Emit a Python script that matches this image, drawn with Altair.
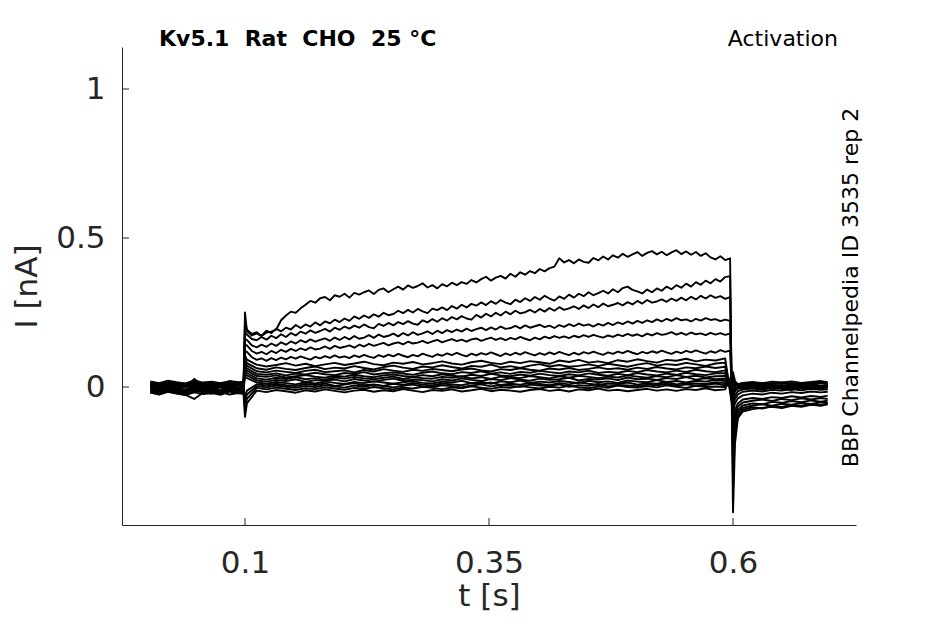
import altair as alt
import pandas as pd

# ---------------- data (current in pA, converted to nA below) ----------------
TRACE_NAMES = ["T1", "T2", "T3", "T4", "T5", "T6",
               "C1", "C2", "C3", "C4", "C5", "C6", "C7", "C8", "C9", "C10", "C11", "C12"]

T_PRE = [0.003, 0.012, 0.021, 0.030, 0.039, 0.048, 0.057, 0.066, 0.075, 0.084, 0.093, 0.0985]
T_TAIL = [0.602, 0.605, 0.610, 0.620, 0.630, 0.640, 0.650, 0.660, 0.670, 0.680, 0.690, 0.697]

PRE = {
    "T1": [8, 2, 10, 4, 11, 3, 7, 0, 9, 5, 12, 4],
    "T2": [-1, -8, 1, -5, 3, -7, -2, -9, 2, -4, -10, -2],
    "T3": [12, 6, 15, 9, 5, 14, 8, 16, 10, 4, 13, 9],
    "T4": [-8, -15, -5, -12, -9, -16, -6, -11, -14, -4, -10, -13],
    "T5": [3, -5, 2, -2, 6, -3, 1, -6, 5, 0, -4, 2],
    "T6": [16, 10, 18, 13, 9, 19, 12, 15, 10, 18, 13, 16],
    "C1": [-14, -20, -11, -17, -22, -13, -18, -15, -21, -12, -17, -19],
    "C2": [9, 3, 12, 6, 2, 11, 5, 8, 13, 4, 10, 6],
    "C3": [-4, -10, -1, -7, -12, -3, -8, -5, 0, -9, -6, -3],
    "C4": [4, -2, 7, 0, 3, 8, -3, 5, 1, 7, -1, 3],
    "C5": [-11, -17, -8, -14, -19, -10, -15, -12, -18, -8, -14, -16],
    "C6": [19, 13, 21, 16, 12, 22, 15, 18, 13, 20, 16, 18],
    "C7": [-18, -24, -15, -21, -26, -40, -19, -22, -16, -25, -20, -17],
    "C8": [6, 0, 9, 3, -1, 27, 5, 2, 8, 2, 6, 1],
    "C9": [-7, -13, -4, -10, -15, -6, -11, -8, -14, -5, -10, -12],
    "C10": [12, 6, 14, 9, 5, 15, 8, 11, 6, 13, 9, 12],
    "C11": [-1, -7, 2, -4, -8, 1, -5, -2, -9, 3, -3, -6],
    "C12": [-19, -25, -16, -22, -27, -18, -24, -20, -26, -15, -21, -23],
}

ON_SPIKE = [250, 215, 185, 160, 140, 120, 105, 95, 85, 75, 65, 55, 45, 35, -30, -55, -80, -100]
OFF_SPIKE = [-420, -320, -250, -190, -150, -115, -85, -65, -48, -35, -22, -12, 0, 12, 20, 30, 40, 50]

# step samples every 5 ms from 0.102 s (large traces)
STEP_T1 = [188, 173, 180, 171, 183, 186, 193, 224, 240, 253,
           249, 264, 276, 289, 283, 298, 302, 291, 308, 303,
           313, 300, 316, 310, 318, 324, 312, 326, 331, 318,
           328, 337, 327, 341, 333, 339, 348, 334, 342, 331,
           345, 338, 350, 342, 352, 346, 359, 351, 362, 370,
           357, 367, 373, 364, 380, 370, 385, 377, 389, 382,
           396, 388, 399, 404, 432, 418, 426, 415, 428, 420,
           417, 433, 425, 438, 428, 442, 434, 447, 437, 445,
           453, 440, 450, 456, 445, 454, 442, 452, 459, 446,
           455, 444, 453, 440, 449, 435, 428, 439, 426, 432]
STEP_T2 = [192, 178, 184, 172, 189, 181, 196, 187, 199, 193,
           208, 198, 210, 203, 217, 207, 220, 214, 226, 218,
           230, 222, 237, 229, 240, 232, 244, 236, 249, 241,
           245, 256, 248, 259, 250, 262, 254, 248, 263, 258,
           267, 258, 272, 263, 276, 267, 279, 273, 284, 275,
           288, 279, 292, 283, 278, 293, 285, 298, 289, 302,
           293, 306, 297, 290, 304, 296, 310, 300, 313, 305,
           318, 308, 315, 323, 314, 328, 318, 332, 337, 326,
           321, 314, 327, 318, 331, 323, 337, 328, 342, 333,
           347, 337, 352, 343, 357, 348, 362, 354, 369, 372]
STEP_T3 = [176, 161, 157, 168, 159, 172, 164, 177, 168, 181,
           173, 186, 179, 190, 182, 188, 195, 186, 199, 192,
           203, 196, 206, 199, 210, 201, 197, 212, 205, 215,
           207, 218, 211, 221, 213, 209, 224, 217, 228, 219,
           231, 223, 235, 227, 238, 230, 226, 242, 233, 246,
           237, 249, 240, 253, 244, 256, 247, 251, 259, 250,
           262, 253, 265, 256, 268, 259, 264, 271, 262, 274,
           265, 277, 268, 280, 271, 276, 282, 274, 285, 277,
           289, 280, 292, 283, 287, 294, 286, 297, 289, 300,
           291, 303, 294, 306, 297, 308, 299, 305, 296, 302]
STEP_T4 = [158, 140, 133, 142, 135, 146, 138, 150, 142, 153,
           146, 157, 150, 160, 152, 158, 163, 155, 166, 158,
           168, 160, 171, 162, 166, 174, 165, 176, 168, 172,
           179, 170, 181, 173, 184, 175, 180, 187, 178, 189,
           181, 191, 184, 193, 186, 196, 188, 194, 199, 191,
           200, 193, 203, 195, 198, 205, 197, 207, 199, 204,
           209, 201, 206, 198, 208, 202, 211, 204, 213, 206,
           210, 203, 212, 206, 215, 208, 217, 211, 220, 213,
           222, 215, 224, 218, 227, 220, 229, 222, 231, 224,
           227, 220, 229, 223, 231, 225, 228, 221, 226, 222]
STEP_T5 = [140, 121, 112, 118, 110, 121, 114, 125, 118, 128,
           121, 130, 124, 133, 126, 129, 136, 128, 138, 131,
           135, 140, 132, 142, 136, 145, 138, 143, 148, 140,
           146, 150, 143, 152, 146, 149, 155, 147, 153, 158,
           150, 156, 161, 154, 159, 152, 160, 163, 155, 161,
           166, 158, 164, 157, 165, 160, 168, 162, 157, 166,
           160, 169, 163, 171, 165, 170, 164, 172, 167, 174,
           168, 175, 170, 166, 173, 168, 176, 171, 178, 172,
           177, 170, 179, 173, 181, 175, 178, 184, 176, 182,
           175, 183, 177, 180, 174, 182, 176, 181, 175, 179]
STEP_T6 = [118, 100, 91, 96, 88, 97, 90, 99, 93, 101,
           95, 103, 97, 92, 101, 96, 104, 98, 106, 99,
           103, 97, 106, 100, 108, 102, 98, 107, 101, 109,
           103, 111, 105, 100, 108, 103, 112, 106, 101, 110,
           105, 113, 107, 115, 108, 103, 112, 106, 114, 109,
           116, 110, 104, 113, 107, 115, 109, 117, 111, 106,
           114, 108, 116, 110, 118, 112, 107, 115, 109, 117,
           112, 119, 113, 108, 116, 111, 119, 114, 121, 115,
           110, 118, 113, 120, 115, 122, 116, 111, 119, 114,
           121, 116, 123, 117, 112, 120, 115, 124, 118, 122]

# step samples every 10 ms from 0.102 s (small traces)
STEP_C1 = [92, 75, 69, 74, 80, 72, 78, 70, 76, 81,
           74, 79, 85, 77, 73, 82, 78, 84, 76, 80,
           86, 79, 75, 83, 88, 81, 77, 85, 80, 87,
           83, 78, 89, 84, 91, 82, 86, 80, 90, 85,
           93, 87, 82, 91, 88, 95, 86, 92, 89, 96]
STEP_C2 = [80, 63, 58, 66, 61, 57, 64, 69, 60, 65,
           62, 70, 64, 59, 67, 72, 65, 61, 69, 66,
           73, 67, 62, 71, 68, 75, 66, 70, 64, 72,
           77, 69, 74, 68, 71, 76, 70, 78, 73, 68,
           75, 80, 72, 77, 74, 81, 76, 71, 79, 82]
STEP_C3 = [72, 53, 49, 55, 51, 47, 54, 58, 50, 53,
           56, 49, 57, 52, 60, 55, 51, 58, 54, 61,
           57, 53, 59, 62, 56, 52, 60, 57, 63, 58,
           55, 62, 59, 64, 57, 61, 66, 60, 63, 58,
           65, 61, 67, 62, 59, 66, 63, 69, 64, 68]
STEP_C4 = [63, 44, 41, 46, 39, 45, 42, 48, 43, 40,
           47, 44, 50, 42, 46, 49, 45, 41, 48, 52,
           46, 43, 50, 47, 53, 45, 49, 44, 51, 48,
           54, 50, 46, 52, 49, 55, 47, 51, 48, 54,
           50, 57, 52, 49, 55, 51, 58, 53, 50, 56]
STEP_C5 = [55, 37, 34, 39, 32, 36, 40, 35, 31, 38,
           35, 41, 36, 33, 39, 42, 37, 34, 40, 36,
           43, 38, 35, 41, 37, 44, 39, 36, 42, 38,
           45, 40, 37, 43, 39, 46, 41, 38, 44, 40,
           47, 42, 39, 45, 41, 48, 43, 40, 46, 46]
STEP_C6 = [47, 29, 25, 31, 27, 33, 26, 30, 24, 32,
           28, 34, 29, 26, 31, 35, 27, 33, 30, 28,
           34, 31, 36, 29, 33, 27, 35, 32, 30, 37,
           33, 29, 36, 31, 38, 34, 30, 35, 32, 39,
           35, 31, 37, 33, 40, 34, 38, 32, 36, 37]
STEP_C7 = [39, 22, 18, 24, 20, 26, 17, 23, 21, 25,
           19, 27, 22, 18, 24, 28, 21, 25, 23, 19,
           26, 22, 29, 24, 20, 27, 23, 30, 25, 21,
           28, 24, 26, 31, 22, 27, 25, 29, 23, 32,
           26, 28, 24, 30, 27, 33, 25, 29, 26, 28]
STEP_C8 = [30, 15, 11, 17, 13, 9, 16, 12, 18, 14,
           10, 17, 13, 19, 15, 11, 16, 20, 14, 12,
           18, 15, 21, 13, 17, 11, 19, 16, 22, 14,
           18, 15, 20, 17, 13, 21, 16, 19, 14, 22,
           18, 16, 23, 17, 20, 15, 21, 18, 24, 20]
STEP_C9 = [-12, 9, 5, 11, 6, 3, 10, 7, 12, 4,
           8, 13, 6, 9, 4, 11, 7, 14, 8, 5,
           12, 9, 6, 13, 10, 15, 7, 11, 8, 14,
           10, 6, 13, 9, 16, 11, 7, 12, 10, 15,
           8, 13, 11, 17, 9, 14, 12, 10, 16, 13]
STEP_C10 = [-25, 3, -1, 5, 1, -3, 4, 0, 6, 2,
            -2, 5, 1, 7, 3, -1, 4, 8, 2, 0,
            6, 3, -1, 5, 9, 2, 7, 4, 1, 8,
            5, 3, 9, 1, 6, 4, 10, 2, 7, 5,
            3, 8, 6, 11, 4, 9, 5, 7, 12, 6]
STEP_C11 = [-40, -3, -8, -2, -6, -10, -4, -7, -1, -5,
            -9, -3, -6, 0, -4, -8, -2, -5, 1, -3,
            -7, -1, -4, 2, -2, -6, 0, -3, 3, -1,
            -5, 1, -2, 4, -1, -4, 2, -3, 5, 0,
            -2, 3, -1, 6, 1, -3, 4, 0, 2, 0]
STEP_C12 = [-55, -12, -17, -10, -14, -19, -11, -15, -8, -13,
            -18, -12, -9, -16, -11, -14, -7, -12, -17, -10,
            -13, -8, -15, -11, -6, -14, -9, -12, -16, -10,
            -7, -13, -9, -15, -8, -11, -5, -12, -9, -14,
            -10, -6, -12, -8, -13, -7, -10, -4, -11, -8]

TAIL = {
    "T1": [-190, -105, -82, -74, -70, -66, -71, -63, -66, -60, -63, -58],
    "T2": [-160, -98, -76, -68, -72, -64, -67, -60, -63, -57, -61, -55],
    "T3": [-135, -88, -70, -62, -58, -63, -56, -59, -53, -57, -51, -54],
    "T4": [-115, -78, -62, -55, -58, -50, -53, -47, -51, -45, -49, -46],
    "T5": [-95, -66, -52, -46, -42, -47, -40, -44, -38, -42, -37, -40],
    "T6": [-78, -55, -42, -37, -40, -34, -37, -31, -35, -30, -33, -29],
    "C1": [-55, -38, -28, -22, -25, -19, -22, -17, -20, -15, -18, -16],
    "C2": [-40, -25, -16, -12, -15, -9, -12, -7, -11, -6, -9, -8],
    "C3": [-28, -15, -8, -4, -7, -2, -5, 0, -3, 1, -2, 0],
    "C4": [-15, -6, 2, 5, 1, 6, 3, 8, 4, 7, 2, 5],
    "C5": [-8, 2, 9, 12, 8, 13, 10, 14, 9, 12, 15, 11],
    "C6": [0, 8, 14, 17, 13, 18, 15, 19, 14, 17, 20, 16],
    "C7": [6, 10, 5, 9, 3, 8, 4, 7, 2, 9, 5, 7],
    "C8": [4, -2, 3, -1, 5, 0, -3, 2, -2, 4, 0, 1],
    "C9": [8, 1, -4, 2, -3, 3, -1, -5, 1, -2, 2, -1],
    "C10": [10, -3, -8, -4, -9, -2, -6, -10, -3, -7, -4, -8],
    "C11": [15, 2, -6, 3, -2, 4, -1, 5, 0, 3, -2, 2],
    "C12": [20, 10, 12, 7, 13, 9, 15, 8, 12, 10, 14, 11],
}

STEPS = {"T1": STEP_T1, "T2": STEP_T2, "T3": STEP_T3, "T4": STEP_T4, "T5": STEP_T5, "T6": STEP_T6,
         "C1": STEP_C1, "C2": STEP_C2, "C3": STEP_C3, "C4": STEP_C4, "C5": STEP_C5, "C6": STEP_C6,
         "C7": STEP_C7, "C8": STEP_C8, "C9": STEP_C9, "C10": STEP_C10, "C11": STEP_C11, "C12": STEP_C12}

X_TICKS = [0.1, 0.35, 0.6]
Y_TICKS = [0, 0.5, 1]

# ---------------- build long table ----------------
rows = []
for idx, name in enumerate(TRACE_NAMES):
    pts = list(zip(T_PRE, PRE[name]))
    pts.append((0.1, ON_SPIKE[idx]))
    step = STEPS[name]
    dt = 0.005 if name.startswith("T") else 0.01
    pts += [(round(0.102 + dt * k, 4), v) for k, v in enumerate(step)]
    pts.append((0.6, OFF_SPIKE[idx]))
    pts += list(zip(T_TAIL, TAIL[name]))
    for k, (t, v) in enumerate(pts):
        rows.append({"trace": name, "k": k, "t": t, "i": v / 1000.0})
df = pd.DataFrame(rows)

W, H = 734, 478
AX = "#262626"
FONT = "DejaVu Sans"

xscale = alt.Scale(domain=[-0.026, 0.726], nice=False, zero=False)
yscale = alt.Scale(domain=[-0.463, 1.141], nice=False, zero=False)

x_axis = alt.Axis(values=X_TICKS, format=".2~f", title="t [s]", labelPadding=23,
                  titleX=W / 2, titleY=80, titleBaseline="alphabetic", titleAlign="center")
y_axis = alt.Axis(values=Y_TICKS, format=".1~f", title="I [nA]", labelPadding=17,
                  titleX=-86, titleY=H / 2, titleAngle=270, titleBaseline="alphabetic",
                  titleAlign="center")

lines = alt.Chart(df).mark_line(color="black", strokeWidth=1.9, strokeJoin="round").encode(
    x=alt.X("t:Q", scale=xscale, axis=x_axis),
    y=alt.Y("i:Q", scale=yscale, axis=y_axis),
    detail="trace:N",
    order="k:Q",
)

xt = alt.Chart(pd.DataFrame({"t": X_TICKS})).mark_rule(color=AX, strokeWidth=1).encode(
    x=alt.X("t:Q", scale=xscale, title="t [s]"),
    y=alt.value(H), y2=alt.value(H - 7),
)
yt = alt.Chart(pd.DataFrame({"i": Y_TICKS})).mark_rule(color=AX, strokeWidth=1).encode(
    y=alt.Y("i:Q", scale=yscale, title="I [nA]"),
    x=alt.value(0), x2=alt.value(7),
)

one = pd.DataFrame({"a": [0]})
title_left = alt.Chart(one).mark_text(
    text="Kv5.1\u00a0\u00a0Rat\u00a0\u00a0CHO\u00a0\u00a025 °C", font=FONT, fontSize=22,
    fontWeight="bold", color="black", align="left", baseline="alphabetic",
).encode(x=alt.value(37), y=alt.value(-1))
title_right = alt.Chart(one).mark_text(
    text="Activation", font=FONT, fontSize=22, color="black", align="right",
    baseline="alphabetic",
).encode(x=alt.value(716), y=alt.value(-1))
side = alt.Chart(one).mark_text(
    text="BBP Channelpedia ID 3535 rep 2", font=FONT, fontSize=22, color="black",
    align="center", baseline="alphabetic", angle=270,
).encode(x=alt.value(736), y=alt.value(240.5))

chart = alt.layer(lines, xt, yt, title_left, title_right, side).properties(
    width=W, height=H,
    padding={"left": 114, "top": 39, "right": 60, "bottom": 100},
    autosize=alt.AutoSizeParams(type="none"),
).configure_view(strokeWidth=0).configure_axis(
    grid=False, ticks=False, tickSize=0, domainColor=AX, domainWidth=1,
    labelFont=FONT, labelFontSize=31, labelColor=AX, labelFlush=False,
    titleFont=FONT, titleFontSize=31, titleFontWeight="normal", titleColor=AX,
)

chart.save("out.html", embed_options={"renderer": "svg", "actions": False})
